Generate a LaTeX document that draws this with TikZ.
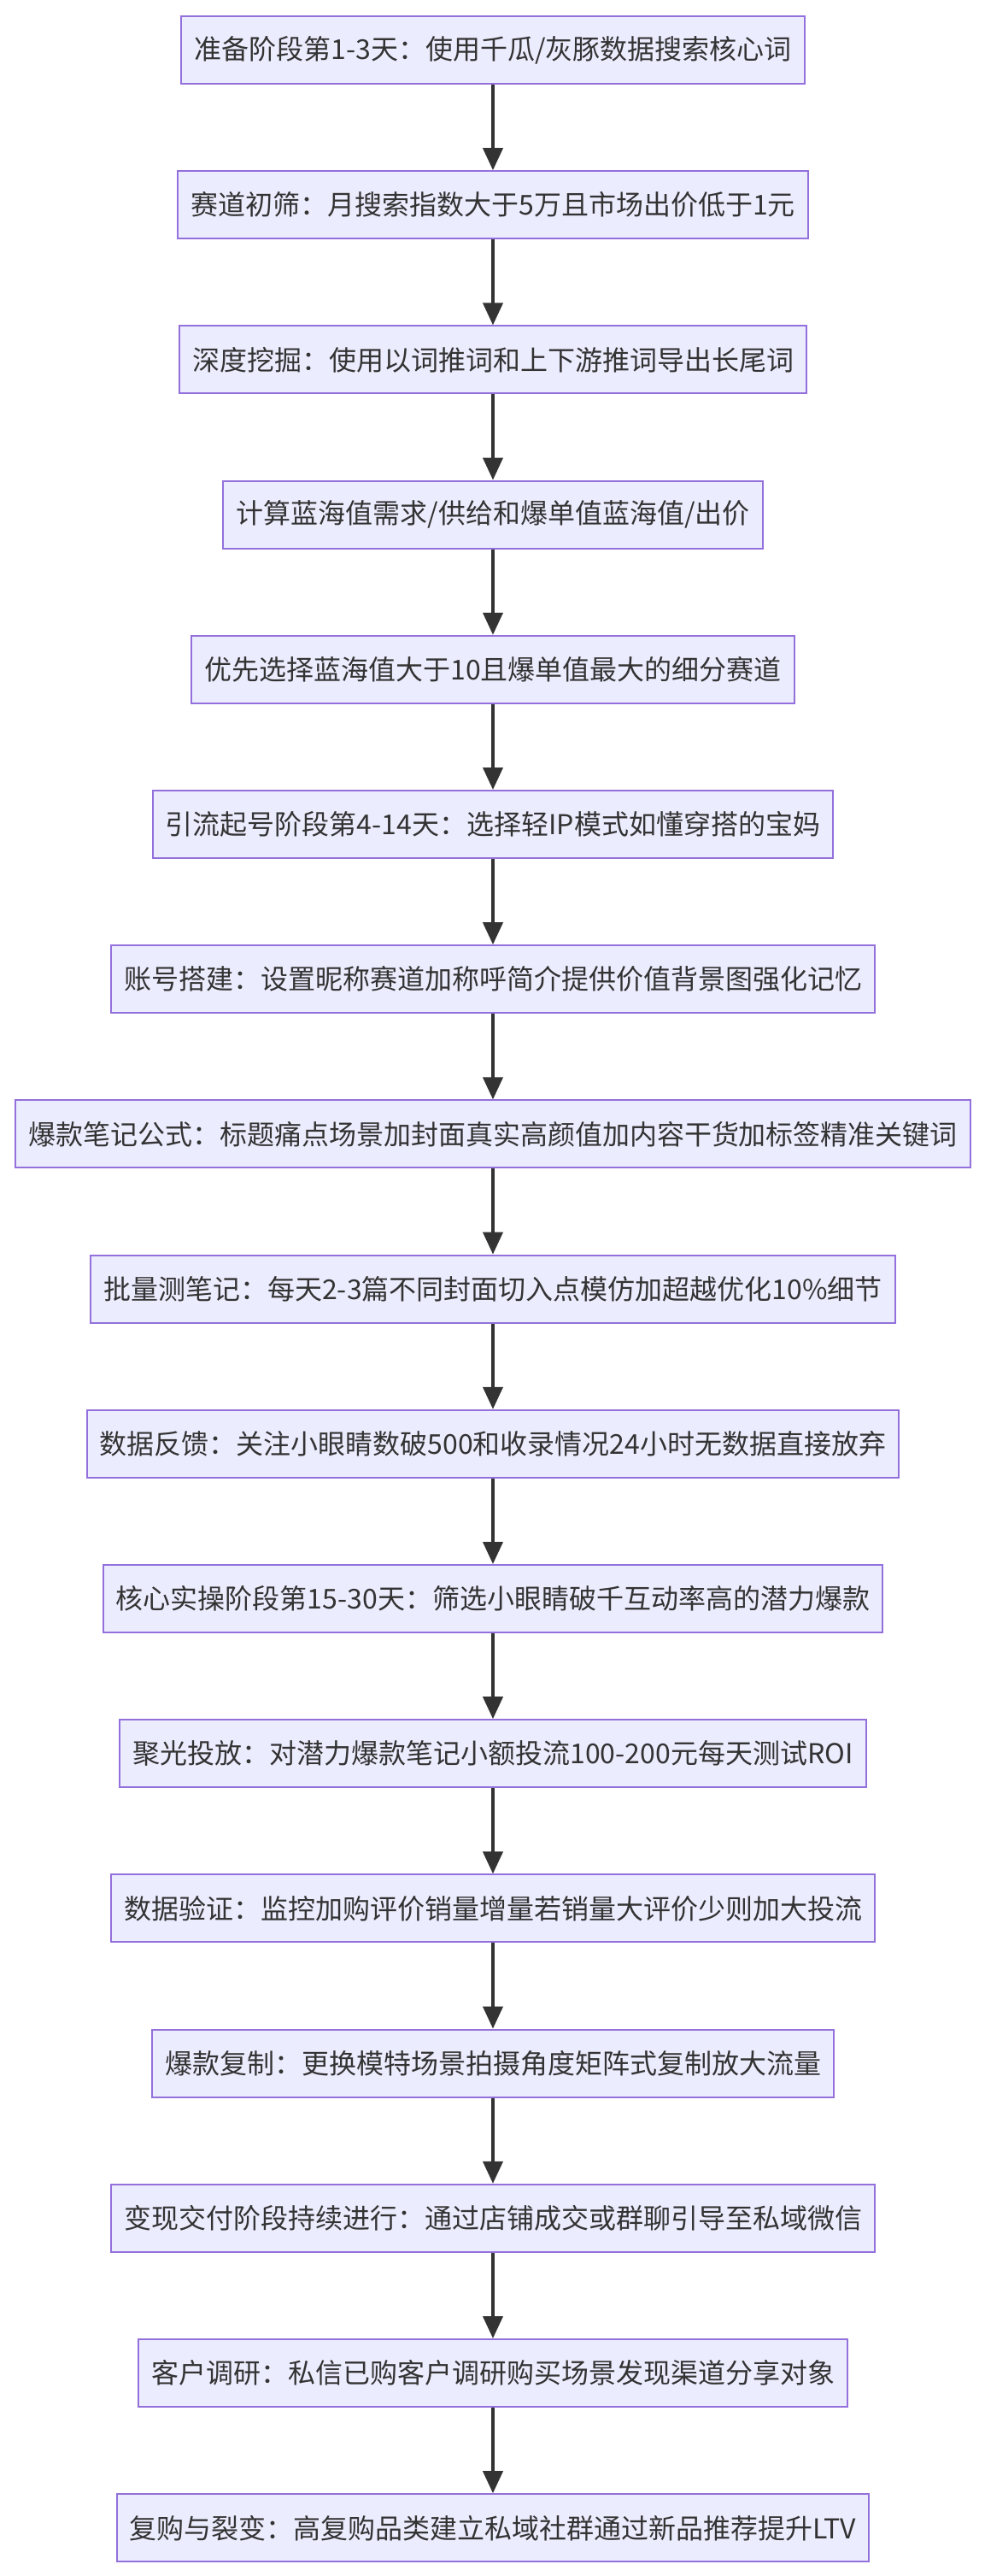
\documentclass[tikz,border=0pt]{standalone}
\usepackage{fontspec}
\setmainfont{Noto Sans CJK SC}
\usetikzlibrary{positioning, arrows.meta}
\definecolor{boxfill}{HTML}{ECECFF}
\definecolor{boxline}{HTML}{9370DB}
\definecolor{textgray}{HTML}{333333}
\tikzstyle{stage_op} = [rectangle, minimum height=39.5pt, inner xsep=7.5pt, text centered, draw=boxline, fill=boxfill, line width=1pt, text=textgray, font=\fontsize{16pt}{19pt}\selectfont]
\tikzstyle{flow_arrow} = [draw=textgray, line width=2pt, -{Triangle[length=13pt,width=11.5pt]}]

\begin{document}
\begin{tikzpicture}[node distance=90.6pt]
\useasboundingbox (0,0) rectangle (576pt,-1507pt);
\node (1) [stage_op] at (288.5pt,-29.25pt) {准备阶段第1-3天：使用千瓜/灰豚数据搜索核心词};
\node (2) [stage_op, below of = 1] {赛道初筛：月搜索指数大于5万且市场出价低于1元};
\node (3) [stage_op, below of = 2] {深度挖掘：使用以词推词和上下游推词导出长尾词};
\node (4) [stage_op, below of = 3] {计算蓝海值需求/供给和爆单值蓝海值/出价};
\node (5) [stage_op, below of = 4] {优先选择蓝海值大于10且爆单值最大的细分赛道};
\node (6) [stage_op, below of = 5] {引流起号阶段第4-14天：选择轻IP模式如懂穿搭的宝妈};
\node (7) [stage_op, below of = 6] {账号搭建：设置昵称赛道加称呼简介提供价值背景图强化记忆};
\node (8) [stage_op, below of = 7] {爆款笔记公式：标题痛点场景加封面真实高颜值加内容干货加标签精准关键词};
\node (9) [stage_op, below of = 8] {批量测笔记：每天2-3篇不同封面切入点模仿加超越优化10\%细节};
\node (10) [stage_op, below of = 9] {数据反馈：关注小眼睛数破500和收录情况24小时无数据直接放弃};
\node (11) [stage_op, below of = 10] {核心实操阶段第15-30天：筛选小眼睛破千互动率高的潜力爆款};
\node (12) [stage_op, below of = 11] {聚光投放：对潜力爆款笔记小额投流100-200元每天测试ROI};
\node (13) [stage_op, below of = 12] {数据验证：监控加购评价销量增量若销量大评价少则加大投流};
\node (14) [stage_op, below of = 13] {爆款复制：更换模特场景拍摄角度矩阵式复制放大流量};
\node (15) [stage_op, below of = 14] {变现交付阶段持续进行：通过店铺成交或群聊引导至私域微信};
\node (16) [stage_op, below of = 15] {客户调研：私信已购客户调研购买场景发现渠道分享对象};
\node (17) [stage_op, below of = 16] {复购与裂变：高复购品类建立私域社群通过新品推荐提升LTV};
 \foreach \i [evaluate=\i as \j using int(\i+1)] in {1,...,16}
 {
     \draw [flow_arrow] (\i) -- (\j);
 }
\end{tikzpicture}
\end{document}
